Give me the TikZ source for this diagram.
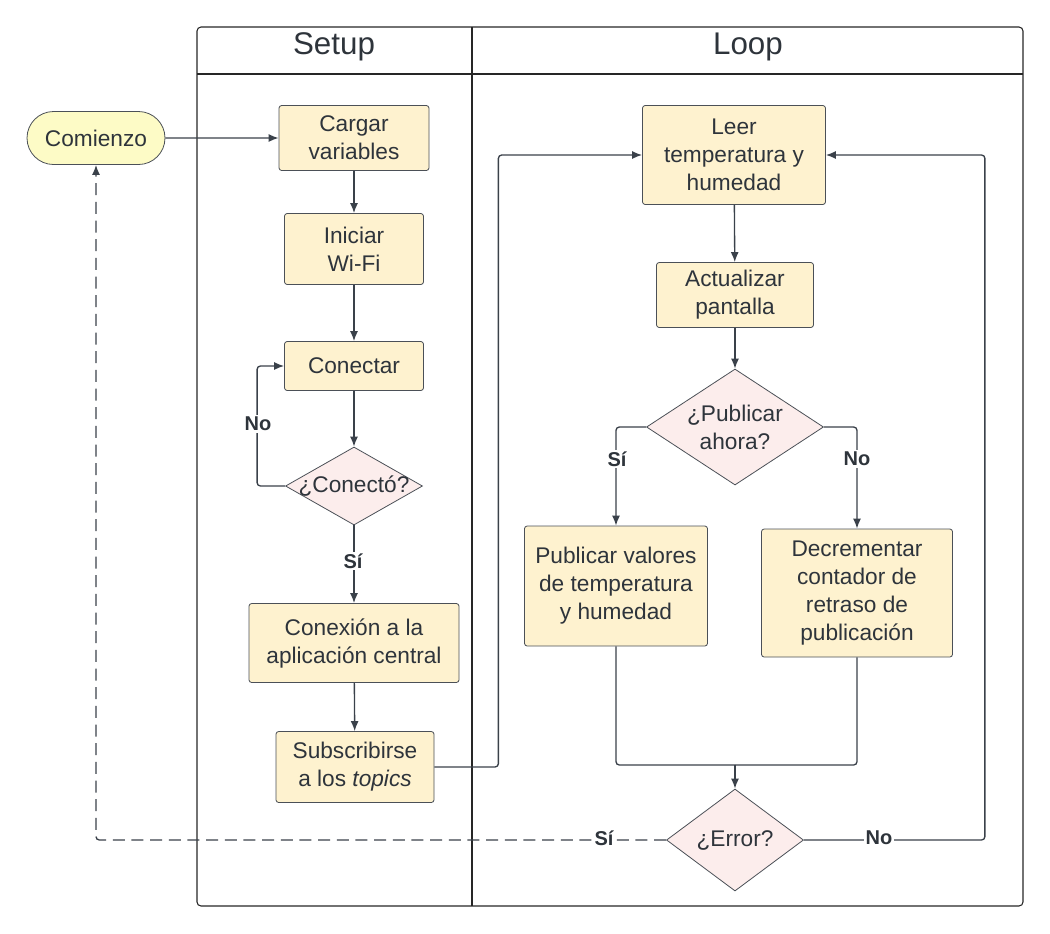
\documentclass[tikz,border=0pt]{standalone}
\usepackage{fontspec}
\setmainfont{Liberation Sans}
\usetikzlibrary{shapes.geometric,shapes.misc,arrows.meta}
\definecolor{ln}{HTML}{3A414A}
\definecolor{bd}{HTML}{4B5057}
\definecolor{txtc}{HTML}{2E343B}
\definecolor{boxf}{HTML}{FEF2CF}
\definecolor{startf}{HTML}{FDFBC6}
\definecolor{decf}{HTML}{FCEDEC}
\tikzset{
  base/.style={draw=bd, line width=0.6pt, text=txtc, font=\fontsize{17}{21}\selectfont, align=center, inner sep=0pt},
  proc/.style={base, fill=boxf, rounded corners=2pt},
  startnode/.style={base, fill=startf, rounded rectangle},
  dec/.style={base, fill=decf, diamond},
  dectxt/.style={text=txtc, font=\fontsize{17}{21}\selectfont, align=center, inner sep=0pt},
  line/.style={draw=ln, line width=1pt, rounded corners=2.5pt},
  conn/.style={line, -{Latex[length=7.5pt,width=6pt]}},
  lbl/.style={fill=white, text=txtc, font=\fontsize{15}{17}\selectfont\bfseries, inner sep=1.5pt},
  frame/.style={draw=black!85, line width=0.8pt},
  title/.style={text=txtc, font=\fontsize{23.5}{26}\selectfont, inner sep=0pt}
}
\begin{document}
\begin{tikzpicture}[x=0.75pt,y=-0.75pt]
\useasboundingbox (0,0) rectangle (1050,933);
% frame
\draw[frame, rounded corners=3pt] (197,27) rectangle (1023,906);
\draw[frame] (197,74) -- (1023,74);
\draw[frame] (472,27) -- (472,906);
\node[title] (tsetup) at (334,47) {Setup};
\node[title] (tloop) at (748,47) {Loop};

% nodes
\node[startnode, minimum width=103.5pt, minimum height=39.75pt] (comienzo) at (96,138) {Comienzo};
\node[proc, minimum width=112.5pt, minimum height=48.75pt] (cargar) at (354,138) {Cargar\\variables};
\node[proc, minimum width=104.25pt, minimum height=53.25pt] (iniciar) at (354,249) {Iniciar\\Wi-Fi};
\node[proc, minimum width=104.25pt, minimum height=36.75pt] (conectar) at (354,366) {Conectar};
\node[dec, minimum width=102.75pt, minimum height=58.5pt, label={[dectxt]center:¿Conectó?}] (conecto) at (354,486) {};
\node[proc, minimum width=157.5pt, minimum height=59.25pt] (conexion) at (354,643) {Conexión a la\\aplicación central};
\node[proc, minimum width=118.5pt, minimum height=53.25pt] (sub) at (355,767) {Subscribirse\\a los \textit{topics}};

\node[proc, minimum width=137.25pt, minimum height=74.25pt] (leer) at (734,155) {Leer\\temperatura y\\humedad};
\node[proc, minimum width=117.75pt, minimum height=48.75pt] (act) at (735,295) {Actualizar\\pantalla};
\node[dec, minimum width=132.75pt, minimum height=87pt, label={[dectxt]center:{¿Publicar\\ahora?}}] (pub) at (735,427) {};
\node[proc, minimum width=137.25pt, minimum height=90pt] (pubval) at (616,586) {Publicar valores\\de temperatura\\y humedad};
\node[proc, minimum width=143.25pt, minimum height=96pt] (decr) at (857,593) {Decrementar\\contador de\\retraso de\\publicación};
\node[dec, minimum width=102.75pt, minimum height=76.5pt, label={[dectxt]center:¿Error?}] (err) at (735,840) {};
\coordinate (merge) at (735,765);

% connectors
\draw[conn] (comienzo) -- (cargar);
\draw[conn] (cargar) -- (iniciar);
\draw[conn] (iniciar) -- (conectar);
\draw[conn] (conectar) -- (conecto);
\draw[conn] (conecto.west) -- ++(-28,0) |- (conectar.west);
\draw[conn] (conecto) -- (conexion);
\draw[conn] (conexion) -- (sub);
\draw[conn] (sub.east) -- ++(64,0) |- (leer.west);
\draw[conn] (leer) -- (act);
\draw[conn] (act) -- (pub);
\draw[conn] (pub.west) -| (pubval.north);
\draw[conn] (pub.east) -| (decr.north);
\draw[line] (pubval.south) |- (merge);
\draw[line] (decr.south) |- (merge);
\draw[conn] (merge) -- (err.north);
\draw[conn, dash pattern=on 9pt off 5pt] (err.west) -| (comienzo.south);
\draw[conn] (err.east) -- ++(181,0) |- (leer.east);

% labels
\node[lbl] (lno1) at (258,424) {No};
\node[lbl] (lsi1) at (353,561) {Sí};
\node[lbl] (lsi2) at (617,459) {Sí};
\node[lbl] (lno2) at (857,459) {No};
\node[lbl] (lsi3) at (604,838) {Sí};
\node[lbl] (lno3) at (879,838) {No};
\end{tikzpicture}
\end{document}
